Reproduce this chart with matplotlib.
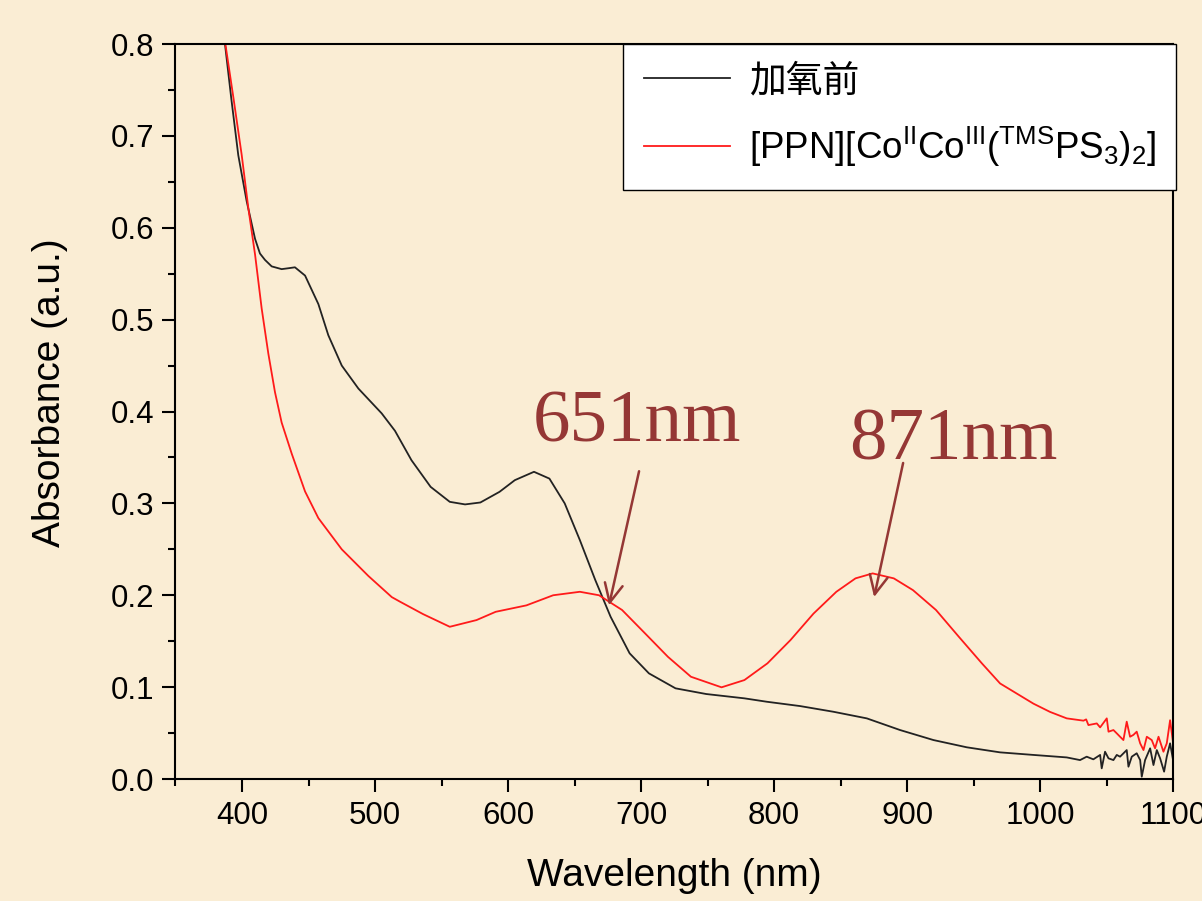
import numpy as np
import matplotlib
matplotlib.use("Agg")
import matplotlib.pyplot as plt
from matplotlib.ticker import MultipleLocator, FormatStrFormatter

plt.rcParams['font.family'] = ['Liberation Sans', 'Noto Sans CJK SC', 'DejaVu Sans']
plt.rcParams['mathtext.fontset'] = 'custom'
plt.rcParams['mathtext.rm'] = 'Liberation Sans'
plt.rcParams['mathtext.it'] = 'Liberation Sans:italic'
plt.rcParams['mathtext.bf'] = 'Liberation Sans:bold'

## data
wl_before = [385.0, 387.2, 392.0, 397.2, 403.5, 409.8, 413.5, 417.3, 422.3, 429.8, 435.0,
             439.8, 447.4, 457.4, 464.9, 475.0, 487.5, 505.0, 515.0, 527.4, 541.8, 556.2,
             567.7, 579.2, 593.6, 605.1, 619.5, 631.1, 642.6, 654.0, 665.6, 677.1, 691.4,
             705.9, 725.9, 749.0, 777.7, 794.5, 819.5, 844.6, 869.7, 894.7, 919.8, 944.9,
             969.9, 995.0, 1020.0, 1030.0, 1035.0, 1040.0, 1045.1, 1046.3, 1048.8, 1051.4,
             1055.1, 1057.6, 1060.1, 1065.1, 1066.4, 1068.9, 1072.6, 1075.2, 1076.4, 1078.9,
             1082.7, 1085.2, 1087.7, 1090.2, 1093.2, 1095.2, 1097.7, 1099.7]
abs_before = [0.830, 0.800, 0.740, 0.679, 0.629, 0.588, 0.572, 0.565, 0.558, 0.555, 0.556,
              0.557, 0.548, 0.517, 0.483, 0.450, 0.425, 0.398, 0.379, 0.347, 0.318, 0.3017,
              0.2989, 0.301, 0.3126, 0.3253, 0.3344, 0.327, 0.300, 0.260, 0.2165, 0.1766, 0.1368,
              0.115, 0.0987, 0.0925, 0.0878, 0.0841, 0.0794, 0.0732, 0.066, 0.0533, 0.0424, 0.0345,
              0.0290, 0.0262, 0.0235, 0.0206, 0.0243, 0.0214, 0.0262, 0.0116, 0.0297, 0.0225,
              0.0206, 0.0262, 0.0243, 0.0315, 0.0134, 0.0243, 0.028, 0.0206, 0.0025, 0.0206,
              0.0334, 0.0152, 0.0315, 0.0225, 0.008, 0.0243, 0.0388, 0.0225]

wl_ppn = [385.5, 387.5, 393.5, 399.8, 404.8, 409.8, 414.8, 419.8, 424.8, 429.8, 437.4,
          447.4, 457.4, 475.0, 495.0, 512.6, 518.8, 536.1, 556.2, 576.3, 590.7, 613.8,
          633.9, 654.0, 668.4, 685.7, 703.0, 720.2, 737.5, 760.5, 777.7, 795.0, 812.3,
          829.6, 846.8, 861.2, 874.1, 890.0, 904.4, 921.7, 938.9, 956.2, 969.9, 995.0,
          1007.5, 1020.0, 1032.6, 1034.6, 1036.3, 1042.6, 1045.1, 1050.1, 1051.4, 1055.1,
          1057.6, 1060.1, 1062.6, 1065.1, 1067.6, 1070.1, 1072.6, 1075.2, 1077.7, 1080.2,
          1083.9, 1086.4, 1089.0, 1092.7, 1095.2, 1097.7, 1099.0, 1100.0]
abs_ppn = [0.830, 0.800, 0.742, 0.679, 0.621, 0.571, 0.512, 0.463, 0.421, 0.388, 0.354,
           0.313, 0.284, 0.250, 0.221, 0.198, 0.193, 0.1795, 0.1657, 0.173, 0.182, 0.189,
           0.200, 0.2038, 0.200, 0.184, 0.1585, 0.133, 0.1113, 0.0998, 0.1077, 0.1259, 0.1512,
           0.180, 0.2038, 0.2184, 0.2238, 0.2184, 0.2056, 0.184, 0.1548, 0.1259, 0.104, 0.082,
           0.073, 0.066, 0.0635, 0.0649, 0.0587, 0.0605, 0.0562, 0.0660, 0.0515, 0.0533,
           0.0497, 0.046, 0.0424, 0.0624, 0.046, 0.048, 0.0515, 0.0388, 0.0315, 0.046,
           0.0424, 0.0334, 0.046, 0.0297, 0.0388, 0.064, 0.0497, 0.0388]

peak_labels = ["651nm", "871nm"]
label_pos = [(618.8, 0.367), (856.4, 0.348)]
arrow_tail = [(698.5, 0.335), (897.0, 0.344)]
arrow_head = [(675.9, 0.189), (875.2, 0.198)]

bg = '#FAEDD4'
ann_col = '#953735'

fig = plt.figure(figsize=(12.02, 9.01), dpi=100, facecolor=bg)
ax = fig.add_axes([0.146, 0.1354, 0.83, 0.8157])
ax.set_facecolor(bg)

ax.plot(wl_before, abs_before, color='#222222', lw=1.3, label='加氧前')
ax.plot(wl_ppn, abs_ppn, color='#FF1A1A', lw=1.3,
        label=r'[PPN][Co$^{\rm II}$Co$^{\rm III}$($^{\rm TMS}$PS$_{\rm 3}$)$_{\rm 2}$]')

ax.set_xlim(350, 1100)
ax.set_ylim(0, 0.8)
ax.xaxis.set_major_locator(MultipleLocator(100))
ax.xaxis.set_minor_locator(MultipleLocator(50))
ax.yaxis.set_major_locator(MultipleLocator(0.1))
ax.yaxis.set_minor_locator(MultipleLocator(0.05))
ax.yaxis.set_major_formatter(FormatStrFormatter('%.1f'))
ax.set_xticks([400, 500, 600, 700, 800, 900, 1000, 1100])

ax.tick_params(which='major', direction='out', length=9.5, width=1.5, labelsize=22.5, pad=6)
ax.tick_params(which='minor', direction='out', length=5, width=1.5)
ax.tick_params(top=False, right=False)
for s in ax.spines.values():
    s.set_linewidth(1.5)

ax.set_xlabel('Wavelength (nm)', fontsize=28, labelpad=20)
ax.set_ylabel('Absorbance (a.u.)', fontsize=28)
ax.yaxis.set_label_coords(-0.108, 0.526)

# peak labels + arrows
for lab, pos, tail, head in zip(peak_labels, label_pos, arrow_tail, arrow_head):
    ax.text(pos[0], pos[1], lab, family='Liberation Serif', fontsize=54,
            color=ann_col, ha='left', va='baseline')
    ax.annotate('', xy=head, xytext=tail,
                arrowprops=dict(arrowstyle='->,head_length=1.35,head_width=0.65',
                                color=ann_col, lw=1.8, shrinkA=0, shrinkB=0))

leg = ax.legend(loc='upper right', bbox_to_anchor=(1.003, 1.0), borderaxespad=0,
                fontsize=26.5, fancybox=False, framealpha=1, edgecolor='black',
                handlelength=2.35, handletextpad=0.5, labelspacing=0.7,
                borderpad=0.55)
leg.get_frame().set_linewidth(1.0)
leg.set_zorder(5)

fig.savefig('out.png', dpi=100, facecolor=bg)
